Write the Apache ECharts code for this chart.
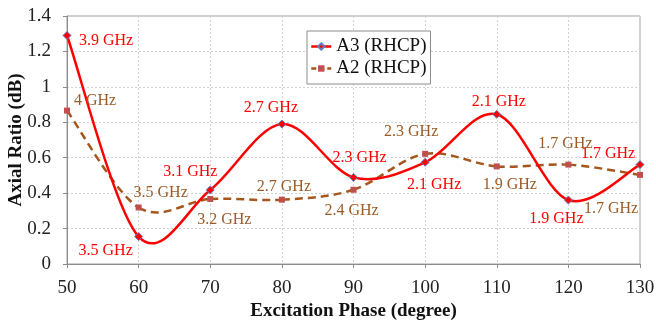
<!DOCTYPE html>
<html>
<head>
<meta charset="utf-8">
<script src="https://cdn.jsdelivr.net/npm/echarts@6/dist/echarts.min.js"></script>
<style>
  html, body { margin: 0; padding: 0; background: #fff; }
  #chart { width: 656px; height: 325px; }
</style>
</head>
<body>
<div id="chart"></div>
<script>
/* Axial ratio vs excitation phase, two antennas, each point tagged with its frequency */
const phases = [50, 60, 70, 80, 90, 100, 110, 120, 130];

const a3Ratio = [1.29, 0.155, 0.418, 0.79, 0.489, 0.574, 0.845, 0.361, 0.561];
const a3Freq  = ['3.9 GHz', '3.5 GHz', '3.1 GHz', '2.7 GHz', '2.3 GHz', '2.1 GHz', '2.1 GHz', '1.9 GHz', '1.7 GHz'];

const a2Ratio = [0.866, 0.319, 0.367, 0.363, 0.419, 0.622, 0.551, 0.561, 0.503];
const a2Freq  = ['4 GHz', '3.5 GHz', '3.2 GHz', '2.7 GHz', '2.4 GHz', '2.3 GHz', '1.9 GHz', '1.7 GHz', '1.7 GHz'];

// where each frequency tag sits relative to its point (px)
const a3LabelShift = [[39, 5], [-33, 14], [-20, -18], [-11, -16], [6, -20], [9, 22], [2, -13], [-12, 19], [-32, -11]];
const a2LabelShift = [[28, -10], [22, -15], [14, 21], [2, -13], [-2, 21], [-14, -22], [13, 18], [-3, -21], [-29, 34]];

const SERIF = '"Liberation Serif", "DejaVu Serif", serif';
const RED = '#ff0000', BROWN = '#a5561c', BROWN_TXT = '#9c5a25';
const RED_LINE = { color: RED, width: 2.5, type: 'solid' };
const BROWN_LINE = { color: BROWN, width: 2.5, type: [8, 5] };

function points(vals, tags, shifts, color) {
  return phases.map((x, i) => ({
    value: [x, vals[i]],
    label: {
      show: true, position: 'inside', offset: shifts[i],
      formatter: tags[i], color, fontFamily: SERIF, fontSize: 16
    }
  }));
}

/* Excel-style smoothed line: Catmull-Rom pieces between neighbouring points,
   echarts' own smooth clamps control points and never overshoots */
function spline(vals, line) {
  const n = phases.length;
  const at = (api, j) => {
    j = Math.max(0, Math.min(n - 1, j));
    return api.coord([phases[j], vals[j]]);
  };
  return {
    type: 'custom', silent: true, z: 2,
    data: phases.map((x, i) => [x, vals[i]]),
    encode: { x: 0, y: 1 },
    renderItem(params, api) {
      const i = params.dataIndex;
      if (i >= n - 1) return null;
      const p0 = at(api, i - 1), p1 = at(api, i), p2 = at(api, i + 1), p3 = at(api, i + 2);
      return {
        type: 'bezierCurve',
        shape: {
          x1: p1[0], y1: p1[1], x2: p2[0], y2: p2[1],
          cpx1: p1[0] + (p2[0] - p0[0]) / 6, cpy1: p1[1] + (p2[1] - p0[1]) / 6,
          cpx2: p2[0] - (p3[0] - p1[0]) / 6, cpy2: p2[1] - (p3[1] - p1[1]) / 6
        },
        style: {
          fill: null, stroke: line.color, lineWidth: line.width,
          lineDash: Array.isArray(line.type) ? line.type : null, lineCap: 'butt'
        }
      };
    }
  };
}

const axisCommon = {
  nameMoveOverlap: false,
  axisLine: { show: true, lineStyle: { color: '#8c8c8c', width: 1 } },
  axisTick: { show: true, length: 4, lineStyle: { color: '#8c8c8c' } },
  splitLine: { show: true, lineStyle: { color: '#d2d2d2', type: [2, 2], width: 1 } },
  axisLabel: { color: '#222', fontFamily: SERIF, fontSize: 19 },
  nameTextStyle: { color: '#111', fontFamily: SERIF, fontSize: 19, fontWeight: 'bold' }
};

const chart = echarts.init(document.getElementById('chart'), null, { renderer: 'canvas' });
chart.setOption({
  animation: false,
  backgroundColor: '#fff',
  grid: {
    left: 67, right: 16, top: 16, bottom: 61,
    outerBoundsMode: 'none', containLabel: false,
    show: true, borderColor: '#a0a0a0', borderWidth: 1
  },
  legend: {
    orient: 'vertical', left: 307, top: 31,
    padding: [6, 4, 6, 3], itemGap: 3, itemWidth: 20, itemHeight: 8,
    backgroundColor: '#fff', borderColor: '#8c8c8c', borderWidth: 1, borderRadius: 0,
    textStyle: { color: '#111', fontFamily: SERIF, fontSize: 19 },
    data: [
      { name: 'A3 (RHCP)', lineStyle: { ...RED_LINE, opacity: 1 } },
      { name: 'A2 (RHCP)', lineStyle: { ...BROWN_LINE, type: [5, 3], opacity: 1 } }
    ]
  },
  xAxis: {
    type: 'value', min: 50, max: 130, interval: 10,
    name: 'Excitation Phase (degree)', nameLocation: 'middle', nameGap: 38,
    ...axisCommon,
    axisLabel: { ...axisCommon.axisLabel, margin: 15 }
  },
  yAxis: {
    type: 'value', min: 0, max: 1.4, interval: 0.2,
    name: 'Axial Ratio (dB)', nameLocation: 'middle', nameGap: 41, nameRotate: 90,
    ...axisCommon,
    axisLabel: { ...axisCommon.axisLabel, margin: 16 }
  },
  series: [
    spline(a2Ratio, BROWN_LINE),
    spline(a3Ratio, RED_LINE),
    {
      name: 'A2 (RHCP)', type: 'line', z: 3,
      data: points(a2Ratio, a2Freq, a2LabelShift, BROWN_TXT),
      symbol: 'rect', symbolSize: 6,
      itemStyle: { color: '#c0504d' },
      lineStyle: { ...BROWN_LINE, opacity: 0 }
    },
    {
      name: 'A3 (RHCP)', type: 'line', z: 4,
      data: points(a3Ratio, a3Freq, a3LabelShift, RED),
      symbol: 'diamond', symbolSize: 8,
      itemStyle: { color: RED, borderColor: '#5b7fc4', borderWidth: 1 },
      lineStyle: { ...RED_LINE, opacity: 0 }
    }
  ]
});
</script>
</body>
</html>
